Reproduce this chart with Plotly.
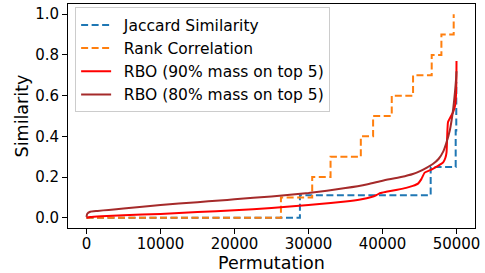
import plotly.graph_objects as go

# Jaccard similarity (step)
jac_x = [0, 28840, 46510, 49890, 49970, 50000]
jac_y = [0.0, 0.111, 0.25, 0.429, 0.667, 0.667]

# Rank correlation (step)
rank_x = [0, 26275, 30500, 32980, 37070, 38730, 41250, 44130, 46650, 47960, 49620]
rank_y = [0.0, 0.1, 0.2, 0.3, 0.4, 0.5, 0.6, 0.7, 0.8, 0.9, 1.0]

# RBO (90% mass on top 5)
rbo90_x = [0, 500, 2000, 5000, 10000, 15000, 20000, 25000, 30000, 33000, 35000, 37000,
           38500, 39200, 39700, 40500, 42000, 43200, 44100, 44800, 45250, 45700, 46300,
           46800, 47500, 48200, 48500, 48650, 48850, 49200, 49530, 49800, 49930,
           49990, 50000]
rbo90_y = [0.0, 0.004, 0.008, 0.013, 0.019, 0.028, 0.037, 0.048, 0.063, 0.073, 0.080, 0.090,
           0.102, 0.112, 0.122, 0.128, 0.138, 0.147, 0.157, 0.168, 0.190, 0.222, 0.232,
           0.240, 0.255, 0.272, 0.295, 0.320, 0.469, 0.495, 0.518, 0.550, 0.600,
           0.700, 0.770]

# RBO (80% mass on top 5)
rbo80_x = [0, 100, 500, 1500, 3000, 5000, 10000, 15000, 18000, 20000, 25000, 30000, 35000,
           38000, 40000, 42500, 44100, 45000, 46000, 46800, 47600, 48200, 48600, 49100,
           49500, 49800, 49950, 50000]
rbo80_y = [0.005, 0.020, 0.030, 0.034, 0.039, 0.046, 0.063, 0.077, 0.085, 0.091, 0.105, 0.122,
           0.146, 0.165, 0.182, 0.200, 0.215, 0.228, 0.247, 0.264, 0.290, 0.325, 0.365, 0.430,
           0.520, 0.620, 0.685, 0.720]

series_names = ["Jaccard Similarity", "Rank Correlation",
                "RBO (90% mass on top 5)", "RBO (80% mass on top 5)"]

x_ticks = [0, 10000, 20000, 30000, 40000, 50000]
y_ticks = [0.0, 0.2, 0.4, 0.6, 0.8, 1.0]

FONT = "DejaVu Sans"
dash = "7px,3.5px"
PAD = "\u2002"  # small gap between legend sample and label

fig = go.Figure()
fig.add_trace(go.Scatter(x=jac_x, y=jac_y, mode="lines", name=PAD + series_names[0],
                         line=dict(color="#1f77b4", width=2, dash=dash, shape="hv")))
fig.add_trace(go.Scatter(x=rank_x, y=rank_y, mode="lines", name=PAD + series_names[1],
                         line=dict(color="#ff7f0e", width=2, dash=dash, shape="hv")))
fig.add_trace(go.Scatter(x=rbo90_x, y=rbo90_y, mode="lines", name=PAD + series_names[2],
                         line=dict(color="#ff0000", width=2, shape="spline", smoothing=0.4)))
fig.add_trace(go.Scatter(x=rbo80_x, y=rbo80_y, mode="lines", name=PAD + series_names[3],
                         line=dict(color="#a52a2a", width=2, shape="spline", smoothing=0.5)))

fig.update_layout(
    width=485, height=273,
    margin=dict(l=68, r=10, t=4, b=45),
    plot_bgcolor="white", paper_bgcolor="white",
    font=dict(family=FONT, size=15, color="black"),
    showlegend=True,
    legend=dict(x=0.0175, y=0.985, xanchor="left", yanchor="top",
                bgcolor="rgba(255,255,255,0.8)", bordercolor="#cccccc", borderwidth=1,
                font=dict(family=FONT, size=15.5, color="black")),
)
fig.update_xaxes(range=[-2500, 52500], tickvals=x_ticks, tickformat="d", automargin=False,
                 ticks="outside", ticklen=5, tickwidth=1, tickcolor="black",
                 ticklabelstandoff=-3,
                 showline=True, linecolor="black", linewidth=1, mirror=True,
                 showgrid=False, zeroline=False,
                 title=dict(text="Permutation", font=dict(size=17.5), standoff=2))
fig.update_yaxes(range=[-0.05, 1.05], tickvals=y_ticks, tickformat=".1f", automargin=False,
                 ticks="outside", ticklen=5, tickwidth=1, tickcolor="black",
                 showline=True, linecolor="black", linewidth=1, mirror=True,
                 showgrid=False, zeroline=False,
                 title=dict(text="Similarity", font=dict(size=17.5), standoff=2))

fig.write_html("out.html", config={"displayModeBar": False},
               post_script="document.body.style.margin='0';document.body.style.overflow='hidden';")
